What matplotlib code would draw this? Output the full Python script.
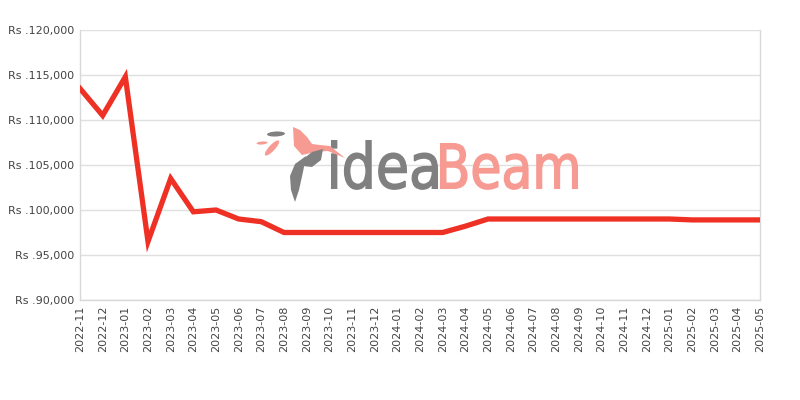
import matplotlib
matplotlib.use("Agg")
import matplotlib.pyplot as plt
import matplotlib.ticker as mticker
from matplotlib.font_manager import FontProperties
from matplotlib.patches import Ellipse, PathPatch, Polygon
from matplotlib.text import TextPath
from matplotlib.transforms import Affine2D, IdentityTransform

# Monthly price (Rs)
MONTHS = [
    "2022-11", "2022-12", "2023-01", "2023-02", "2023-03", "2023-04",
    "2023-05", "2023-06", "2023-07", "2023-08", "2023-09", "2023-10",
    "2023-11", "2023-12", "2024-01", "2024-02", "2024-03", "2024-04",
    "2024-05", "2024-06", "2024-07", "2024-08", "2024-09", "2024-10",
    "2024-11", "2024-12", "2025-01", "2025-02", "2025-03", "2025-04",
    "2025-05",
]
PRICES = [
    113500, 110500, 114800, 96500, 103500, 99800,
    100000, 99000, 98700, 97500, 97500, 97500,
    97500, 97500, 97500, 97500, 97500, 98200,
    99000, 99000, 99000, 99000, 99000, 99000,
    99000, 99000, 99000, 98900, 98900, 98900,
    98900,
]

RED = "#ee3124"
GRID = "#e0e0e0"
TEXT = "#444444"
LOGO_GRAY = "#808080"
LOGO_PINK = "#f69a92"

W, H = 800, 400

fig = plt.figure(figsize=(8, 4), dpi=100, facecolor="white")
ax = fig.add_axes([0.1, 0.25, 0.85, 0.675])
px = IdentityTransform()


def word(text, color, x0, x1, y_top, y_base):
    """Draw a word stretched into a pixel box (image coords, y down)."""
    path = TextPath((0, 0), text, size=100,
                    prop=FontProperties(family="DejaVu Sans"))
    ext = path.get_extents()
    sx = (x1 - x0 - 1.5) / ext.width
    sy = (y_base - y_top - 1.5) / ext.y1
    tr = (Affine2D().translate(-ext.x0, 0).scale(sx, sy)
          .translate(x0 + 0.75, H - y_base + 0.75))
    fig.add_artist(PathPatch(tr.transform_path(path), facecolor=color,
                             edgecolor=color, lw=1.1, transform=px, zorder=1))


def shape(points, color):
    fig.add_artist(Polygon([(a, H - b) for a, b in points], closed=True,
                           color=color, lw=0, transform=px, zorder=1))


# watermark logo
word("idea", LOGO_GRAY, 331, 438, 140, 189)
word("Beam", LOGO_PINK, 440, 578, 143, 189)
shape([(293, 127), (300, 130), (307, 137), (312, 144), (320, 145),
       (330, 146), (345, 158), (328, 151), (315, 152), (302, 155),
       (294, 146)], LOGO_PINK)
shape([(302, 160), (312, 152), (323, 149), (321, 160), (312, 167),
       (303, 166)], LOGO_GRAY)
shape([(306, 156), (303, 172), (299, 190), (295, 202), (291, 190),
       (290, 176), (295, 164)], LOGO_GRAY)
fig.add_artist(Ellipse((276, H - 134), 18, 5, angle=3, color=LOGO_GRAY,
                       lw=0, transform=px, zorder=1))
fig.add_artist(Ellipse((262, H - 143), 11, 3, angle=5, color=LOGO_PINK,
                       lw=0, transform=px, zorder=1))
fig.add_artist(Ellipse((272, H - 148), 20, 6, angle=47, color=LOGO_PINK,
                       lw=0, transform=px, zorder=1))

x = list(range(len(MONTHS)))
ax.set_facecolor("none")
ax.plot(x, PRICES, color=RED, linewidth=3.8, solid_joinstyle="miter",
        zorder=3)

ax.set_xlim(0, len(MONTHS) - 1)
ax.set_ylim(90000, 120000)
ax.yaxis.set_major_locator(mticker.MultipleLocator(5000))
ax.yaxis.set_major_formatter(
    mticker.FuncFormatter(lambda v, _: f"Rs .{v:,.0f}"))
ax.set_xticks(x)
ax.set_xticklabels(MONTHS, rotation=90)

ax.grid(axis="y", color=GRID, linewidth=1)
ax.set_axisbelow(True)
ax.tick_params(axis="both", length=0, labelsize=8, colors=TEXT, pad=4)
for spine in ax.spines.values():
    spine.set_color("#d8d8d8")
    spine.set_linewidth(1)
ax.spines["top"].set_visible(False)

fig.savefig("out.png", dpi=100, facecolor="white")
